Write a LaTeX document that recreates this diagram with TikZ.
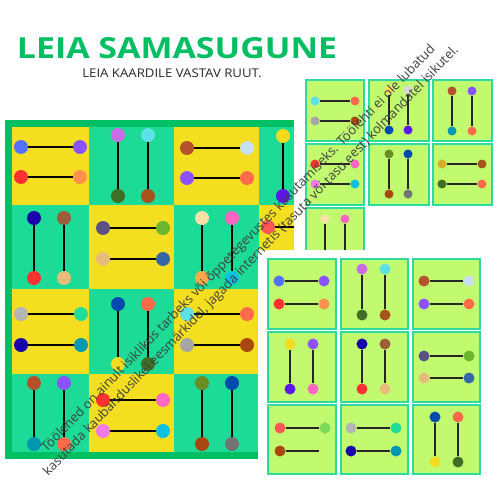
\documentclass[tikz,border=0pt]{standalone}
\usepackage{fontspec}
\setmainfont{Open Sans}
\usetikzlibrary{positioning}

% colours
\definecolor{boardgreen}{HTML}{00BF63}
\definecolor{tileY}{HTML}{F3DE1F}
\definecolor{tileG}{HTML}{1CDB96}
\definecolor{cardfill}{HTML}{C1FA6E}
\definecolor{cardedge}{HTML}{2EDB9E}
\definecolor{blueA}{HTML}{5271FF}
\definecolor{purple}{HTML}{8C52FF}
\definecolor{redA}{HTML}{FF3131}
\definecolor{orange}{HTML}{FF914D}
\definecolor{orchid}{HTML}{CB6CE6}
\definecolor{orchidB}{HTML}{EE7BE6}
\definecolor{cyan}{HTML}{5CE1E6}
\definecolor{darkgreen}{HTML}{3F6E26}
\definecolor{rust}{HTML}{A8521E}
\definecolor{brownA}{HTML}{B5522B}
\definecolor{brownB}{HTML}{A8480E}
\definecolor{lightblue}{HTML}{C9E0F0}
\definecolor{coral}{HTML}{FF6B4A}
\definecolor{coralB}{HTML}{FF5757}
\definecolor{navy}{HTML}{1800AD}
\definecolor{tan}{HTML}{E8BC7A}
\definecolor{mocha}{HTML}{9C5E3A}
\definecolor{slate}{HTML}{5A5189}
\definecolor{grass}{HTML}{6CB52E}
\definecolor{steel}{HTML}{3367A8}
\definecolor{beige}{HTML}{FCE0A8}
\definecolor{apricot}{HTML}{F7A94B}
\definecolor{pink}{HTML}{FF66C4}
\definecolor{skyblue}{HTML}{0CC0DF}
\definecolor{greyA}{HTML}{B5B5B5}
\definecolor{greyB}{HTML}{A6A6A6}
\definecolor{greyC}{HTML}{737373}
\definecolor{lightgrey}{HTML}{D9D9D9}
\definecolor{mint}{HTML}{20DD99}
\definecolor{teal}{HTML}{0097B2}
\definecolor{royal}{HTML}{004AAD}
\definecolor{yellow}{HTML}{F5DC1E}
\definecolor{yellowL}{HTML}{FFDE59}
\definecolor{olive}{HTML}{6B8E23}
\definecolor{lightgreen}{HTML}{7ED957}
\definecolor{mustard}{HTML}{D4B02A}
\definecolor{purpleblue}{HTML}{5E17EB}

\tikzset{
  dot/.style={circle,inner sep=0pt,minimum size=14pt},
  mdot/.style={circle,inner sep=0pt,minimum size=11pt},
  sdot/.style={circle,inner sep=0pt,minimum size=9pt},
  bar/.style={line width=2pt},
  cbar/.style={line width=1.3pt,draw=black!85},
  card/.style={fill=cardfill,draw=cardedge,line width=1.2pt},
}

\begin{document}
\begin{tikzpicture}[x=1pt,y=-1pt]
        \useasboundingbox (0,0) rectangle (500,500);

        % Title
        \node[anchor=base,xscale=1.17,transform shape,font=\bfseries\fontsize{29}{34}\selectfont,text=boardgreen] (title) at (177,59) {LEIA SAMASUGUNE};
        \node[anchor=base,xscale=1.1,transform shape,font=\fontsize{12}{14}\selectfont,text=black!85] (subtitle) at (172,78) {LEIA KAARDILE VASTAV RUUT.};

        % Board tiles
        \fill[tileY] (5,120) rectangle (89,205);
        \fill[tileG] (89,120) rectangle (174,205);
        \fill[tileY] (174,120) rectangle (259,205);
        \fill[tileG] (259,120) rectangle (344,205);
        \fill[tileG] (5,205) rectangle (89,289);
        \fill[tileY] (89,205) rectangle (174,289);
        \fill[tileG] (174,205) rectangle (259,289);
        \fill[tileY] (259,205) rectangle (344,289);
        \fill[tileY] (5,289) rectangle (89,374);
        \fill[tileG] (89,289) rectangle (174,374);
        \fill[tileY] (174,289) rectangle (259,374);
        \fill[tileG] (5,374) rectangle (89,458);
        \fill[tileY] (89,374) rectangle (174,458);
        \fill[tileG] (174,374) rectangle (259,458);

        % Board row 1
        \node[dot,fill=blueA] (b11a) at (21,147) {};
        \node[dot,fill=purple] (b11b) at (80,147) {};
        \node[dot,fill=redA] (b11c) at (21,177) {};
        \node[dot,fill=orange] (b11d) at (80,177) {};
        \node[dot,fill=orchid] (b12a) at (118,135) {};
        \node[dot,fill=darkgreen] (b12b) at (118,196) {};
        \node[dot,fill=cyan] (b12c) at (148,135) {};
        \node[dot,fill=rust] (b12d) at (148,196) {};
        \node[dot,fill=brownA] (b13a) at (187,148) {};
        \node[dot,fill=lightblue] (b13b) at (247,148) {};
        \node[dot,fill=purple] (b13c) at (187,178) {};
        \node[dot,fill=coral] (b13d) at (247,178) {};
        \node[dot,fill=yellow] (b14a) at (283,136) {};
        \node[dot,fill=purpleblue] (b14b) at (283,196) {};

        % Board row 2
        \node[dot,fill=navy] (b21a) at (34,218) {};
        \node[dot,fill=redA] (b21b) at (34,278) {};
        \node[dot,fill=mocha] (b21c) at (64,218) {};
        \node[dot,fill=tan] (b21d) at (64,278) {};
        \node[dot,fill=slate] (b22a) at (103,228) {};
        \node[dot,fill=grass] (b22b) at (163,228) {};
        \node[dot,fill=tan] (b22c) at (103,259) {};
        \node[dot,fill=steel] (b22d) at (163,259) {};
        \node[dot,fill=beige] (b23a) at (202,218) {};
        \node[dot,fill=apricot] (b23b) at (202,278) {};
        \node[dot,fill=pink] (b23c) at (232,218) {};
        \node[dot,fill=skyblue] (b23d) at (232,278) {};
        \node[dot,fill=coralB] (b24a) at (268,227) {};
        \coordinate (b24b) at (300,227);

        % Board row 3
        \node[dot,fill=greyA] (b31a) at (21,314) {};
        \node[dot,fill=mint] (b31b) at (81,314) {};
        \node[dot,fill=navy] (b31c) at (21,345) {};
        \node[dot,fill=teal] (b31d) at (81,345) {};
        \node[dot,fill=royal] (b32a) at (118,304) {};
        \node[dot,fill=yellow] (b32b) at (118,364) {};
        \node[dot,fill=coral] (b32c) at (148,304) {};
        \node[dot,fill=darkgreen] (b32d) at (148,364) {};
        \node[dot,fill=cyan] (b33a) at (187,314) {};
        \node[dot,fill=coral] (b33b) at (247,314) {};
        \node[dot,fill=greyB] (b33c) at (187,345) {};
        \node[dot,fill=brownB] (b33d) at (247,345) {};

        % Board row 4
        \node[dot,fill=brownA] (b41a) at (34,383) {};
        \node[dot,fill=teal] (b41b) at (34,444) {};
        \node[dot,fill=purple] (b41c) at (64,383) {};
        \node[dot,fill=coral] (b41d) at (64,444) {};
        \node[dot,fill=redA] (b42a) at (103,400) {};
        \node[dot,fill=pink] (b42b) at (163,400) {};
        \node[dot,fill=orchidB] (b42c) at (103,431) {};
        \node[dot,fill=skyblue] (b42d) at (163,431) {};
        \node[dot,fill=olive] (b43a) at (202,383) {};
        \node[dot,fill=brownB] (b43b) at (202,444) {};
        \node[dot,fill=royal] (b43c) at (232,383) {};
        \node[dot,fill=greyC] (b43d) at (232,444) {};

        % Board bars
        \foreach \t in {11,12,13,21,22,23,31,32,33,41,42,43} {
            \draw[bar] (b\t a) -- (b\t b);
            \draw[bar] (b\t c) -- (b\t d);
        }
        \draw[bar] (b14a) -- (b14b);
        \draw[bar] (b24a) -- (b24b);

        % Board frame
        \draw[boardgreen,line width=7pt] (8.5,123.5) rectangle (340,455);

        % Top right cards
        \fill[white] (294,115) rectangle (500,250);
        \draw[card] (306,80) rectangle (364,141);
        \draw[card] (369,80) rectangle (429,141);
        \draw[card] (433,80) rectangle (492,141);
        \draw[card] (306,144) rectangle (364,205);
        \draw[card] (369,144) rectangle (429,205);
        \draw[card] (433,144) rectangle (492,205);
        \draw[card] (306,208) rectangle (364,270);

        \node[sdot,fill=cyan] (t1a) at (315,101) {};
        \node[sdot,fill=coral] (t1b) at (355,101) {};
        \node[sdot,fill=greyB] (t1c) at (315,121) {};
        \node[sdot,fill=brownB] (t1d) at (355,121) {};
        \node[sdot,fill=yellowL] (t2a) at (389,90) {};
        \node[sdot,fill=royal] (t2b) at (389,130) {};
        \node[sdot,fill=lightgrey] (t2c) at (408,90) {};
        \node[sdot,fill=purpleblue] (t2d) at (408,130) {};
        \node[sdot,fill=brownA] (t3a) at (452,91) {};
        \node[sdot,fill=teal] (t3b) at (452,131) {};
        \node[sdot,fill=purple] (t3c) at (472,91) {};
        \node[sdot,fill=coral] (t3d) at (472,131) {};
        \node[sdot,fill=redA] (t4a) at (315,164) {};
        \node[sdot,fill=pink] (t4b) at (355,164) {};
        \node[sdot,fill=orchidB] (t4c) at (315,184) {};
        \node[sdot,fill=skyblue] (t4d) at (355,184) {};
        \node[sdot,fill=olive] (t5a) at (389,154) {};
        \node[sdot,fill=brownB] (t5b) at (389,194) {};
        \node[sdot,fill=royal] (t5c) at (408,154) {};
        \node[sdot,fill=greyC] (t5d) at (408,194) {};
        \node[sdot,fill=mustard] (t6a) at (442,164) {};
        \node[sdot,fill=rust] (t6b) at (482,164) {};
        \node[sdot,fill=darkgreen] (t6c) at (442,184) {};
        \node[sdot,fill=coral] (t6d) at (482,184) {};
        \node[sdot,fill=beige] (t7a) at (325,219) {};
        \coordinate (t7b) at (325,262);
        \node[sdot,fill=pink] (t7c) at (345,219) {};
        \coordinate (t7d) at (345,262);

        \foreach \t in {1,...,7} {
            \draw[cbar] (t\t a) -- (t\t b);
            \draw[cbar] (t\t c) -- (t\t d);
        }

        % Lower cards
        \fill[white] (258,250) rectangle (500,480);
        \draw[card] (268,259) rectangle (336,329);
        \draw[card] (341,259) rectangle (408,329);
        \draw[card] (413,259) rectangle (480,329);
        \draw[card] (268,332) rectangle (336,402);
        \draw[card] (341,332) rectangle (408,402);
        \draw[card] (413,332) rectangle (480,402);
        \draw[card] (268,405) rectangle (336,474);
        \draw[card] (341,405) rectangle (408,474);
        \draw[card] (413,405) rectangle (480,474);

        \node[mdot,fill=blueA] (l1a) at (279,281) {};
        \node[mdot,fill=purple] (l1b) at (324,281) {};
        \node[mdot,fill=redA] (l1c) at (279,304) {};
        \node[mdot,fill=orange] (l1d) at (324,304) {};
        \node[mdot,fill=orchid] (l2a) at (362,269) {};
        \node[mdot,fill=darkgreen] (l2b) at (362,315) {};
        \node[mdot,fill=cyan] (l2c) at (385,269) {};
        \node[mdot,fill=rust] (l2d) at (385,315) {};
        \node[mdot,fill=brownA] (l3a) at (424,281) {};
        \node[mdot,fill=lightblue] (l3b) at (469,281) {};
        \node[mdot,fill=purple] (l3c) at (424,304) {};
        \node[mdot,fill=coral] (l3d) at (469,304) {};
        \node[mdot,fill=yellow] (l4a) at (290,344) {};
        \node[mdot,fill=purpleblue] (l4b) at (290,389) {};
        \node[mdot,fill=purple] (l4c) at (313,344) {};
        \node[mdot,fill=pink] (l4d) at (313,389) {};
        \node[mdot,fill=navy] (l5a) at (362,344) {};
        \node[mdot,fill=redA] (l5b) at (362,389) {};
        \node[mdot,fill=mocha] (l5c) at (385,344) {};
        \node[mdot,fill=tan] (l5d) at (385,389) {};
        \node[mdot,fill=slate] (l6a) at (424,356) {};
        \node[mdot,fill=grass] (l6b) at (469,356) {};
        \node[mdot,fill=tan] (l6c) at (424,378) {};
        \node[mdot,fill=steel] (l6d) at (469,378) {};
        \node[mdot,fill=coralB] (l7a) at (280,428) {};
        \node[mdot,fill=lightgreen] (l7b) at (325,428) {};
        \node[mdot,fill=brownB] (l7c) at (280,451) {};
        \coordinate (l7d) at (319,451);
        \node[mdot,fill=greyA] (l8a) at (351,428) {};
        \node[mdot,fill=mint] (l8b) at (396,428) {};
        \node[mdot,fill=navy] (l8c) at (351,451) {};
        \node[mdot,fill=teal] (l8d) at (396,451) {};
        \node[mdot,fill=royal] (l9a) at (435,417) {};
        \node[mdot,fill=yellow] (l9b) at (435,462) {};
        \node[mdot,fill=coral] (l9c) at (458,417) {};
        \node[mdot,fill=darkgreen] (l9d) at (458,462) {};

        \foreach \t in {1,...,9} {
            \draw[cbar] (l\t a) -- (l\t b);
            \draw[cbar] (l\t c) -- (l\t d);
        }

        % Watermark
        \node[rotate=46,align=center,text=black!75,font=\fontsize{13}{17.5}\selectfont] (mark) at (245,255)
            {Töölehed on ainult isiklikus tarbeks või õppetegevustes kasutamiseks. Töölehti ei ole lubatud\\
             kasutada kaubanduslikel eesmärkidel, jagada internetis (tasuta või tasu eest) kolmandatel isikutel.};
    \end{tikzpicture}
\end{document}
